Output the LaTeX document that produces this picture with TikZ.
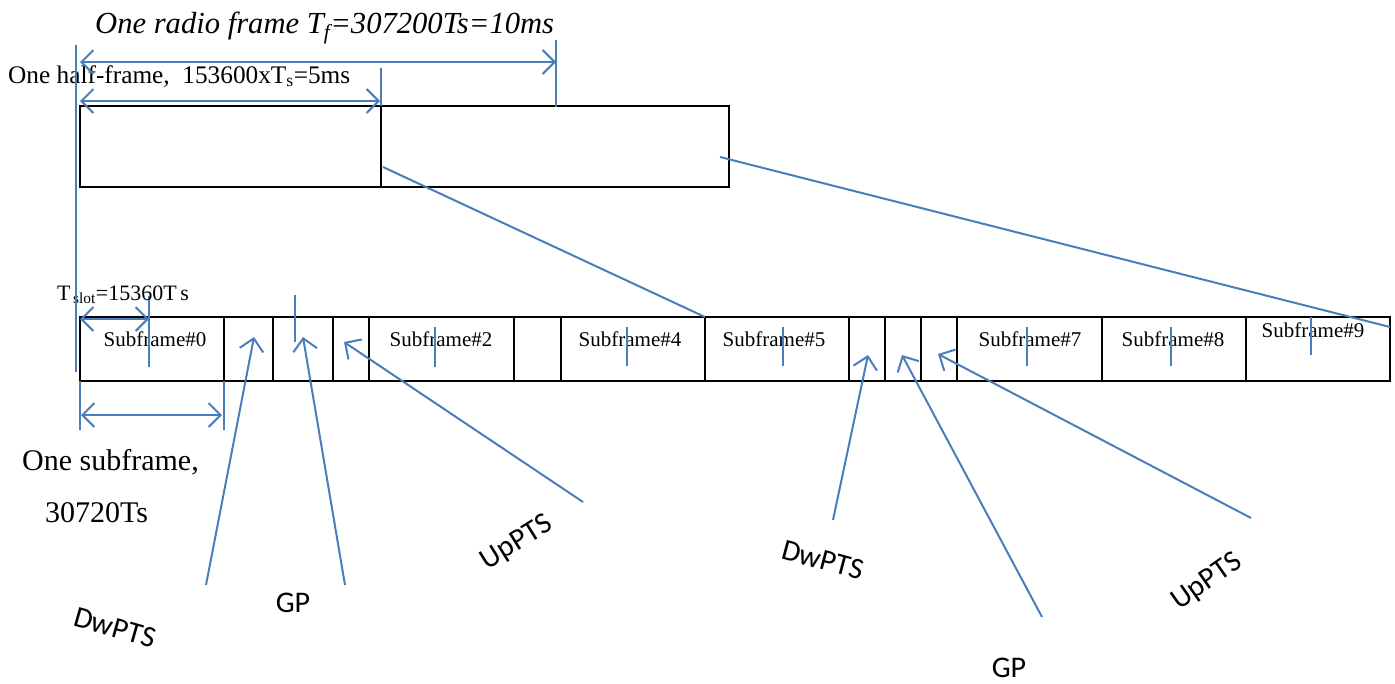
\documentclass[tikz,border=0pt]{standalone}
\usepackage{fontspec}
\setmainfont{Liberation Serif}
\newfontfamily\calib{Carlito}
\usetikzlibrary{arrows.meta}
\definecolor{ob}{RGB}{74,126,187}
\begin{document}
\begin{tikzpicture}[x=1pt,y=-1pt,
 cell/.style={draw=black,line width=2pt,minimum height=64pt,inner sep=0pt,outer sep=0pt},
 bl/.style={draw=ob,line width=2pt},
 tk/.style={draw=ob,line width=1.6pt},
 dar/.style={bl,{Straight Barb[length=12pt,width=24pt]}-{Straight Barb[length=12pt,width=24pt]}},
 par/.style={bl,-{Straight Barb[length=12pt,width=24pt]}},
 sf/.style={font=\fontsize{21}{24}\selectfont,inner sep=0pt},
 lab/.style={font=\calib\fontsize{30}{34}\selectfont,inner sep=0pt}]
\useasboundingbox (0,0) rectangle (1395,683);
% top half-frames
\node[cell,minimum width=301pt,minimum height=81pt] (hf1) at (230.5,146.5) {};
\node[cell,minimum width=348pt,minimum height=81pt] (hf2) at (555,146.5) {};
% bottom cells
\foreach \a/\b/\n in {80/224/s0,224/273/dw1,273/333/gp1,333/369/up1,369/514/s2,514/561/s3,561/705/s4,705/849/s5,849/885/dw2,885/921/gp2,921/957/up2,957/1102/s7,1102/1246/s8,1246/1390/s9}
  \node[cell,minimum width={\b pt-\a pt}] (\n) at ({(\a+\b)/2},349) {};
% subframe labels
\node[sf] (l0) at (155,339) {Subframe\#0};
\node[sf] (l2) at (441,339) {Subframe\#2};
\node[sf] (l4) at (630,339) {Subframe\#4};
\node[sf] (l5) at (774,339) {Subframe\#5};
\node[sf] (l7) at (1030,339) {Subframe\#7};
\node[sf] (l8) at (1173,339) {Subframe\#8};
\node[sf] (l9) at (1313,330) {Subframe\#9};
% ticks inside subframes
\draw[tk] (149,296) -- (149,367);
\draw[tk] (435,327) -- (435,367);
\draw[tk] (295,295) -- (295,342);
\draw[tk] (627,327) -- (627,366);
\draw[tk] (783,327) -- (783,366);
\draw[tk] (1027,327) -- (1027,366);
\draw[tk] (1171,327) -- (1171,366);
\draw[tk] (1311,317) -- (1311,355);
% texts
\node[anchor=base west,inner sep=0pt,font=\fontsize{30.6}{36}\selectfont\itshape] (rf) at (95,33) {One radio frame T\textsubscript{f}=307200Ts=10ms};
\node[anchor=base west,inner sep=0pt,font=\fontsize{25.3}{30}\selectfont] (hft) at (8,83) {One half-frame,\ \ 153600xT\textsubscript{s}=5ms};
\node[anchor=base west,inner sep=0pt,font=\fontsize{22}{26}\selectfont] (ts) at (57,300) {T\textsubscript{\,slot}=15360T\,s};
\node[anchor=base west,inner sep=0pt,font=\fontsize{30}{36}\selectfont] (os) at (22,470) {One subframe,};
\node[anchor=base west,inner sep=0pt,font=\fontsize{30}{36}\selectfont] (os2) at (45,522) {30720Ts};
% dimension lines
\draw[bl] (76,45) -- (76,372);
\draw[dar] (80,62) -- (556,62);
\draw[tk] (556,40) -- (556,107);
\draw[dar] (80,101) -- (380,101);
\draw[tk] (381,68) -- (381,106);
\draw[dar] (80,319) -- (149,319);
\draw[dar] (81,415) -- (222,415);
\draw[tk] (80,381) -- (80,430);
\draw[tk] (224,381) -- (224,430);
% zoom lines
\coordinate (z1) at (383,167);
\coordinate (z2) at (720,157);
\draw[bl] (z1) -- (s5.north west);
\draw[bl] (z2) -- ([yshift=-10pt]s9.north east);
% bottom labels
\node[lab,rotate=-16] (tdw1) at (115,628) {DwPTS};
\node[lab] (tgp1) at (293,603) {GP};
\node[lab,rotate=32] (tup1) at (517,543) {UpPTS};
\node[lab,rotate=-15] (tdw2) at (823,560) {DwPTS};
\node[lab] (tgp2) at (1009,668) {GP};
\node[lab,rotate=35] (tup2) at (1207,582) {UpPTS};
% pointer arrows
\coordinate (a1) at (206,585); \coordinate (b1) at (254,337);
\coordinate (a2) at (345,585); \coordinate (b2) at (303,337);
\coordinate (a3) at (583,502); \coordinate (b3) at (344,342);
\coordinate (a4) at (833,520); \coordinate (b4) at (868,355);
\coordinate (a5) at (1042,617); \coordinate (b5) at (902,355);
\coordinate (a6) at (1251,518); \coordinate (b6) at (938,354);
\draw[par] (a1) -- (b1);
\draw[par] (a2) -- (b2);
\draw[par] (a3) -- (b3);
\draw[par] (a4) -- (b4);
\draw[par] (a5) -- (b5);
\draw[par] (a6) -- (b6);
\end{tikzpicture}
\end{document}
